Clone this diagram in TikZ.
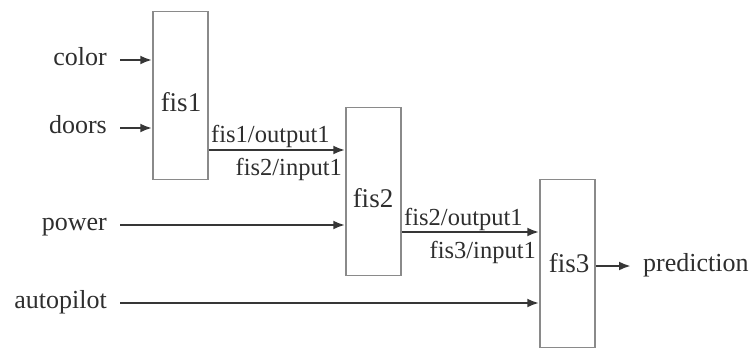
\documentclass[tikz,border=0pt]{standalone}
\usepackage{fontspec}
\setmainfont{Liberation Serif}
\usetikzlibrary{arrows.meta}
\definecolor{txt}{HTML}{2E2E2E}
\definecolor{boxc}{HTML}{8A8A8A}
\definecolor{arrc}{HTML}{363636}
\begin{document}
\begin{tikzpicture}[x=1pt,y=-1pt,
  fisbox/.style={draw=boxc,line width=1.5pt,minimum width=55pt,minimum height=168pt,inner sep=0pt},
  boxlabel/.style={text=txt,font=\fontsize{27}{30}\selectfont,inner sep=0pt},
  inlabel/.style={text=txt,font=\fontsize{26}{30}\selectfont,inner sep=0pt,text height=18pt,text depth=8pt},
  portlabel/.style={text=txt,font=\fontsize{24.5}{28}\selectfont,inner sep=0pt},
  arr/.style={draw=arrc,line width=2.6pt,-{Latex[length=12pt,width=9pt]}}]
\useasboundingbox (0,0) rectangle (751,349);
% boxes
\node[fisbox] (fis1) at (180.5,95.5) {};
\node[fisbox] (fis2) at (373.5,191.5) {};
\node[fisbox] (fis3) at (567.5,263.5) {};
\node[boxlabel,anchor=base] (l1) at (181,111) {fis1};
\node[boxlabel,anchor=base] (l2) at (373,207) {fis2};
\node[boxlabel,anchor=base] (l3) at (569,272) {fis3};
% inputs
\node[inlabel,anchor=east] (color) at (107,60) {color};
\node[inlabel,anchor=east] (doors) at (107,128) {doors};
\node[inlabel,anchor=east] (power) at (107,225) {power};
\node[inlabel,anchor=east] (autopilot) at (107,303) {autopilot};
\node[inlabel,anchor=west] (pred) at (643,266) {prediction};
\draw[arr] ([xshift=13pt]color.east) -- (color.east -| fis1.west);
\draw[arr] ([xshift=13pt]doors.east) -- (doors.east -| fis1.west);
\draw[arr] ([xshift=13pt]power.east) -- (power.east -| fis2.west);
\draw[arr] ([xshift=13pt]autopilot.east) -- (autopilot.east -| fis3.west);
\draw[arr] (pred.west -| fis3.east) -- ([xshift=-12pt]pred.west);
% connections
\coordinate (c1) at (0,150);
\coordinate (c2) at (0,232);
\draw[arr] (c1 -| fis1.east) -- (c1 -| fis2.west);
\draw[arr] (c2 -| fis2.east) -- (c2 -| fis3.west);
\node[portlabel,anchor=base west] (o1) at (211,142) {fis1/output1};
\node[portlabel,anchor=base east] (i1) at (342,175) {fis2/input1};
\node[portlabel,anchor=base west] (o2) at (404,225) {fis2/output1};
\node[portlabel,anchor=base east] (i2) at (536,258) {fis3/input1};
\end{tikzpicture}
\end{document}
